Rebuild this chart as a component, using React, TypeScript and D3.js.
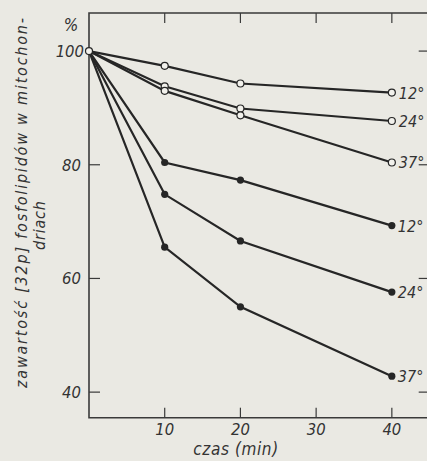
import React from "react";
import * as d3 from "d3";

const times = [0, 10, 20, 40];
const openSeries = [
  { label: "12°", values: [100, 97.4, 94.3, 92.7] },
  { label: "24°", values: [100, 93.8, 89.9, 87.7] },
  { label: "37°", values: [100, 93.0, 88.7, 80.4] },
];
const filledSeries = [
  { label: "12°", values: [100, 80.4, 77.3, 69.3] },
  { label: "24°", values: [100, 74.8, 66.6, 57.6] },
  { label: "37°", values: [100, 65.5, 55.0, 42.8] },
];
const xTicks = [10, 20, 30, 40];
const yTicks = [40, 60, 80, 100];

const width = 427;
const height = 461;
const font = "'DejaVu Sans Condensed', 'Liberation Sans Narrow', 'DejaVu Sans', sans-serif";
const ink = "#262626";

const App = () => {
  const x = d3.scaleLinear().domain([0, 45]).range([89, 429.7]);
  const y = d3.scaleLinear().domain([35.5, 106.7]).range([417.7, 13]);
  const line = d3
    .line<number>()
    .x((d, i) => x(times[i]))
    .y((d) => y(d));

  const x0 = x(0);
  const x1 = x(45);
  const y0 = y(35.5);
  const y1 = y(106.7);

  return (
    <svg
      width={width}
      height={height}
      style={{ position: "absolute", left: 0, top: 0, background: "#eae9e3" }}
      fontFamily={font}
      fontStyle="italic"
    >
      <rect x={0} y={0} width={width} height={height} fill="#eae9e3" />
      {/* frame */}
      <path
        d={`M${x1},${y1}H${x0}V${y0}H${x1}`}
        fill="none"
        stroke="#3a3a3a"
        strokeWidth={1.6}
      />
      {xTicks.map((t) => (
        <g key={"xt" + t}>
          <line x1={x(t)} x2={x(t)} y1={y0} y2={y0 - 10} stroke="#3a3a3a" strokeWidth={1.2} />
          <line x1={x(t)} x2={x(t)} y1={y1} y2={y1 + 10} stroke="#3a3a3a" strokeWidth={1.2} />
          <text x={x(t)} y={y0 + 17} textAnchor="middle" fontSize={16.5} fill="#333">
            {t}
          </text>
        </g>
      ))}
      {yTicks.map((t) => (
        <g key={"yt" + t}>
          {t !== 100 && (
            <line x1={x0} x2={x0 + 11} y1={y(t)} y2={y(t)} stroke="#3a3a3a" strokeWidth={1.2} />
          )}
          <line x1={x1} x2={x1 - 11} y1={y(t)} y2={y(t)} stroke="#3a3a3a" strokeWidth={1.2} />
          <text x={t === 100 ? x0 - 5 : x0 - 8} y={y(t) + 6} textAnchor="end" fontSize={16.5} fill="#333">
            {t}
          </text>
        </g>
      ))}
      <text x={71} y={31} textAnchor="middle" fontSize={17} fill="#333">
        %
      </text>
      <text x={236} y={455} textAnchor="middle" fontSize={17} fill="#333" letterSpacing={0.6}>
        czas (min)
      </text>
      <text
        transform="translate(27,388) rotate(-90)"
        fontSize={16}
        fill="#333"
        textLength={370}
        lengthAdjust="spacing"
      >
        zawartość [32p] fosfolipidów w mitochon-
      </text>
      <text transform="translate(45,250) rotate(-90)" fontSize={16} fill="#333" letterSpacing={0.8}>
        driach
      </text>

      {filledSeries.map((s) => (
        <g key={"f" + s.label}>
          <path d={line(s.values) || ""} fill="none" stroke={ink} strokeWidth={2.2} />
          {s.values.slice(1).map((v, i) => (
            <circle key={i} cx={x(times[i + 1])} cy={y(v)} r={3.6} fill={ink} />
          ))}
          <text x={x(40) + 6} y={y(s.values[3]) + 6} fontSize={16} fill="#333">
            {s.label}
          </text>
        </g>
      ))}
      {openSeries.map((s) => (
        <g key={"o" + s.label}>
          <path d={line(s.values) || ""} fill="none" stroke={ink} strokeWidth={2.2} />
          {s.values.slice(1).map((v, i) => (
            <circle
              key={i}
              cx={x(times[i + 1])}
              cy={y(v)}
              r={3.5}
              fill="#f2f1ec"
              stroke={ink}
              strokeWidth={1.2}
            />
          ))}
          <text x={x(40) + 7} y={y(s.values[3]) + 6} fontSize={16} fill="#333">
            {s.label}
          </text>
        </g>
      ))}
      <circle cx={x(0)} cy={y(100)} r={3.5} fill="#f2f1ec" stroke={ink} strokeWidth={1.2} />
    </svg>
  );
};

export default App;
